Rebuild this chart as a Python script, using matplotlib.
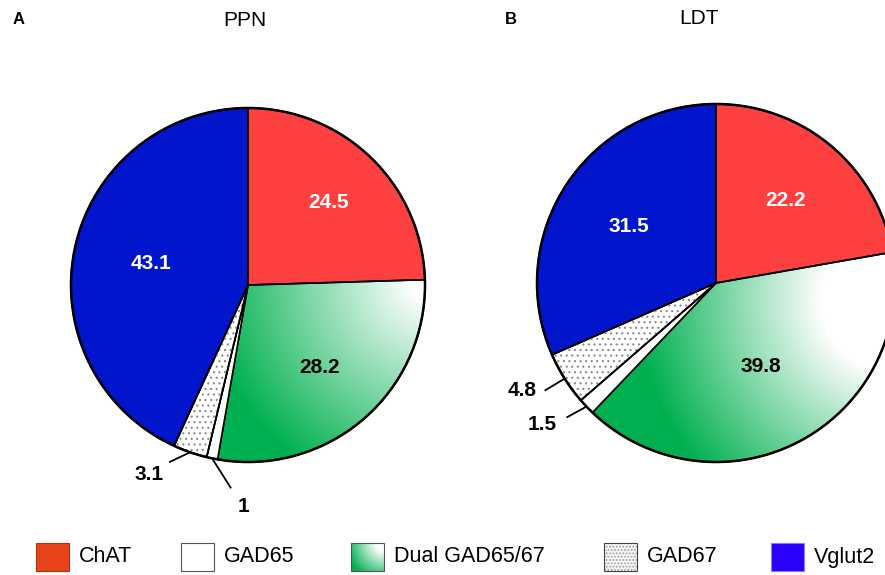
import matplotlib
matplotlib.use('Agg')
import matplotlib.pyplot as plt
from matplotlib.patches import Wedge, Rectangle, Circle
import numpy as np

plt.rcParams['font.family'] = ['Liberation Sans', 'DejaVu Sans']
plt.rcParams['hatch.linewidth'] = 0.8

# data (percent of neurons, clockwise from 12 o'clock)
categories = ['ChAT', 'Dual GAD65/67', 'GAD65', 'GAD67', 'Vglut2']
ppn_values = [24.5, 28.2, 1, 3.1, 43.1]
ldt_values = [22.2, 39.8, 1.5, 4.8, 31.5]
ppn_labels = ['24.5', '28.2', '1', '3.1', '43.1']
ldt_labels = ['22.2', '39.8', '1.5', '4.8', '31.5']
legend_names = ['ChAT', 'GAD65', 'Dual GAD65/67', 'GAD67', 'Vglut2']

RED = '#ff4040'
BLUE = '#0015cc'
GREEN = np.array([0.0, 0.69, 0.31])
WHITE = np.array([1.0, 1.0, 1.0])

W, H = 885, 575
fig = plt.figure(figsize=(W / 100, H / 100), dpi=100)
ax = fig.add_axes([0, 0, 1, 1])


def gradient(ax, clip, extent, wc, r0, r1, z=0.5):
    x0, x1, y0, y1 = extent
    xs = np.linspace(x0, x1, 300)
    ys = np.linspace(y0, y1, 300)
    X, Y = np.meshgrid(xs, ys)
    d = np.hypot(X - wc[0], Y - wc[1])
    t = np.clip((d - r0) / (r1 - r0), 0, 1)[..., None]
    img = WHITE * (1 - t) + GREEN * t
    im = ax.imshow(img, extent=extent, origin='lower', zorder=z, interpolation='bilinear')
    im.set_clip_path(clip)


def draw_pie(center, R, values, labels, rfrac, grad, outside):
    colors = [RED, 'none', 'white', 'white', BLUE]
    wedges, _ = ax.pie(values, colors=colors, startangle=90, counterclock=False,
                       center=center, radius=R, frame=True,
                       wedgeprops=dict(edgecolor='black', linewidth=1.2))
    # gradient for dual wedge
    wd = wedges[1]
    gradient(ax, wd, (center[0] - R, center[0] + R, center[1] - R, center[1] + R),
             grad[0], grad[1], grad[2])
    # dotted GAD67 wedge
    wg = wedges[3]
    ax.add_patch(Wedge(wg.center, wg.r, wg.theta1, wg.theta2, facecolor='none',
                       edgecolor='#8a8a8a', hatch='...', linewidth=0, zorder=1.2))
    ax.add_patch(Wedge(wg.center, wg.r, wg.theta1, wg.theta2, facecolor='none',
                       edgecolor='black', linewidth=1.2, zorder=1.3))
    ax.add_patch(Circle(center, R, facecolor='none', edgecolor='black', linewidth=1.8, zorder=3))
    for i, w in enumerate(wedges):
        mid = np.deg2rad((w.theta1 + w.theta2) / 2)
        if i in outside:
            (lx, ly), (tx, ty) = outside[i]
            ex = center[0] + R * np.cos(mid)
            ey = center[1] + R * np.sin(mid)
            ax.plot([ex, ex + lx], [ey, ey + ly], color='black', lw=1.3, zorder=4,
                    solid_capstyle='butt')
            ax.text(ex + tx, ey + ty, labels[i], ha='center', va='center',
                    fontsize=15, fontweight='bold', color='black', zorder=5)
        else:
            r = rfrac[i] * R
            col = 'black' if i == 1 else 'white'
            ax.text(center[0] + r * np.cos(mid), center[1] + r * np.sin(mid), labels[i],
                    ha='center', va='center', fontsize=15, fontweight='bold',
                    color=col, zorder=5)


# panel A: PPN
draw_pie((248, 290), 177, ppn_values, ppn_labels,
         [0.65, 0.62, 0, 0, 0.56],
         ((432, 295), 20, 225),
         {2: ((19, -30), (31, -48)), 3: ((-21, -10), (-41, -22))})
# panel B: LDT
draw_pie((716, 292), 179, ldt_values, ldt_labels,
         [0.6, 0.53, 0, 0, 0.58],
         ((892, 275), 70, 255),
         {2: ((-20, -11), (-44, -18)), 3: ((-20, -12), (-43, -12))})

ax.text(19, 556, 'A', ha='center', va='center', fontsize=12, fontweight='bold')
ax.text(245, 555, 'PPN', ha='center', va='center', fontsize=15)
ax.text(511, 556, 'B', ha='center', va='center', fontsize=12, fontweight='bold')
ax.text(699, 556, 'LDT', ha='center', va='center', fontsize=15)

# legend
box_x = [36, 181, 351, 604, 771]
bw, bh, by = 33, 28, 4
for i, name in enumerate(legend_names):
    x = box_x[i]
    if name == 'ChAT':
        ax.add_patch(Rectangle((x, by), bw, bh, facecolor='#e8441c', edgecolor='#b03010', lw=0.8))
    elif name == 'GAD65':
        ax.add_patch(Rectangle((x, by), bw, bh, facecolor='white', edgecolor='#555555', lw=0.8))
    elif name == 'Dual GAD65/67':
        rect = Rectangle((x, by), bw, bh, facecolor='none', edgecolor='#555555', lw=0.8, zorder=2)
        ax.add_patch(rect)
        gradient(ax, rect, (x, x + bw, by, by + bh), (x + bw, by + bh), 8, 38, z=1)
    elif name == 'GAD67':
        ax.add_patch(Rectangle((x, by), bw, bh, facecolor='#f4f4f4', edgecolor='#9a9a9a',
                               hatch='.....', lw=0))
        ax.add_patch(Rectangle((x, by), bw, bh, facecolor='none', edgecolor='#444444', lw=0.8))
    else:
        ax.add_patch(Rectangle((x, by), bw, bh, facecolor='#2b00ff', edgecolor='#8080ff', lw=0.8))
    ax.text(x + bw + 10, by + bh / 2, name, ha='left', va='center', fontsize=15.5)

ax.set_xlim(0, W)
ax.set_ylim(0, H)
ax.set_aspect('equal')
ax.axis('off')

fig.savefig('out.png', dpi=100)
